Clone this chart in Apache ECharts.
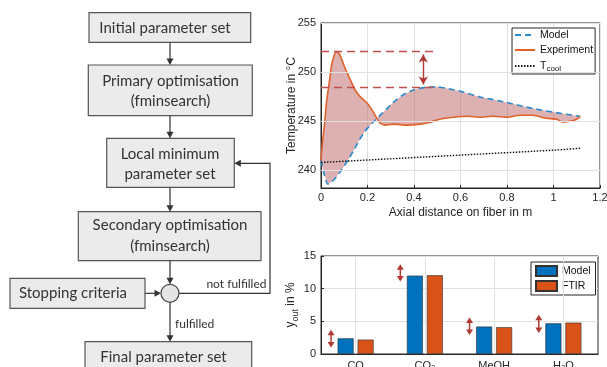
<!DOCTYPE html>
<html><head><meta charset="utf-8">
<script src="https://cdn.jsdelivr.net/npm/echarts@6/dist/echarts.min.js"></script>
<style>html,body{margin:0;padding:0;background:#fff}#c{width:607px;height:367px}</style>
</head><body><div id="c"></div>
<script>
// ---- top chart data ----
const modelX = [0, 0.015, 0.029, 0.045, 0.065, 0.09, 0.115, 0.14, 0.165, 0.19, 0.22, 0.254, 0.28, 0.31, 0.354, 0.40, 0.45, 0.50, 0.55, 0.60, 0.68, 0.80, 0.91, 1.03, 1.115];
const modelY = [241.0, 239.5, 238.6, 238.8, 239.3, 240.1, 241.0, 242.0, 243.1, 244.0, 244.8, 245.6, 246.2, 246.9, 247.7, 248.2, 248.45, 248.5, 248.3, 248.05, 247.5, 246.9, 246.3, 245.8, 245.5];
const expX = [0, 0.007, 0.014, 0.024, 0.036, 0.045, 0.055, 0.067, 0.08, 0.1, 0.115, 0.13, 0.146, 0.168, 0.196, 0.218, 0.24, 0.254, 0.275, 0.31, 0.37, 0.426, 0.47, 0.51, 0.57, 0.627, 0.684, 0.74, 0.80, 0.856, 0.91, 0.97, 1.014, 1.04, 1.07, 1.10, 1.115];
const expY = [241.0, 243.0, 244.4, 247.0, 249.0, 250.6, 251.6, 252.1, 251.8, 250.6, 249.8, 249.0, 248.2, 247.5, 246.9, 246.2, 245.3, 244.8, 244.6, 244.7, 244.6, 244.7, 244.9, 245.2, 245.4, 245.5, 245.4, 245.5, 245.4, 245.6, 245.6, 245.3, 245.2, 244.9, 245.0, 245.2, 245.5];
const coolX = [0, 0.2, 0.4, 0.6, 0.8, 1.0, 1.12];
const coolY = [240.8, 241.05, 241.3, 241.55, 241.8, 242.05, 242.25];
const tempTicks = [240, 245, 250, 255];
const expPeak = 252.1;
const modelPeak = 248.5;
const diffArrow = [0.44, 251.8, 248.75];
const refLineEnd = 0.49;

// ---- bar chart data ----
const categories = ['CO', 'CO\u2082', 'MeOH', 'H\u2082O'];
const barModel = [2.4, 12.0, 4.2, 4.7];
const barFTIR = [2.2, 12.05, 4.1, 4.8];
const arrowLow = [1.0, 11.1, 2.9, 3.2];
const arrowHigh = [3.7, 13.75, 5.6, 6.0];

const FONT = 'Liberation Sans, Arial, sans-serif';
const AX = '#262626';
const GRIDC = '#e1e1e1';

// ---- flowchart graphics ----
const FF = 'Lato';
const LC = '#333';
function box(x, y, w, h) {
  return {type: 'rect', shape: {x: x, y: y, width: w, height: h}, style: {fill: '#ebebeb', stroke: '#555', lineWidth: 1.2}, z: 10};
}
function txt(s, x, y, size, align) {
  return {type: 'text', x: x, y: y, z: 11, style: {text: s, font: size + 'px ' + FF, fill: '#333', align: align || 'center', verticalAlign: 'middle'}};
}
function head(x, y, dir) {
  const a = 6.5, b = 3.5;
  let pts;
  if (dir === 'down') pts = [[x, y], [x - b, y - a], [x + b, y - a]];
  else if (dir === 'right') pts = [[x, y], [x - a, y - b], [x - a, y + b]];
  else pts = [[x, y], [x + a, y - b], [x + a, y + b]];
  return {type: 'polygon', shape: {points: pts}, style: {fill: LC}, z: 11};
}
function seg(points) {
  return {type: 'polyline', shape: {points: points}, style: {stroke: LC, lineWidth: 1.2, fill: null}, z: 10};
}
const flow = [
  box(89, 12.7, 161.7, 29.6), txt('Initial parameter set', 165, 28.5, 15),
  seg([[170, 42.3], [170, 60]]), head(170, 65, 'down'),
  box(88.3, 65, 164, 50.7), txt('Primary optimisation', 170.5, 81.5, 15), txt('(fminsearch)', 170.5, 101.5, 15),
  seg([[170, 115.7], [170, 133]]), head(170, 138.3, 'down'),
  box(106.7, 138.3, 127.6, 49), txt('Local minimum', 170, 154, 15), txt('parameter set', 170, 174, 15),
  seg([[170, 187.3], [170, 206]]), head(170, 211.7, 'down'),
  box(78.3, 211.7, 182.7, 49), txt('Secondary optimisation', 170, 225.5, 15), txt('(fminsearch)', 170, 246, 15),
  seg([[170, 260.7], [170, 279]]), head(170, 284.3, 'down'),
  box(10, 278.3, 135, 30), txt('Stopping criteria', 73, 293.3, 15),
  seg([[145, 293.3], [156, 293.3]]), head(161, 293.3, 'right'),
  {type: 'circle', shape: {cx: 170, cy: 293.3, r: 9}, style: {fill: '#e4e4e4', stroke: '#444', lineWidth: 1.2}, z: 11},
  seg([[179, 293.3], [270, 293.3], [270, 163.3], [240, 163.3]]), head(234.3, 163.3, 'left'),
  txt('not fulfilled', 266.5, 284, 12, 'right'),
  seg([[170, 302.3], [170, 336]]), head(170, 341.7, 'down'),
  txt('fulfilled', 175, 324, 12, 'left'),
  box(85, 341.7, 166.7, 40), txt('Final parameter set', 163.5, 357, 15)
];

const chart = echarts.init(document.getElementById('c'), null, {renderer: 'canvas'});
const option = {
  animation: false,
  backgroundColor: '#fff',
  textStyle: {fontFamily: FONT, color: AX},
  graphic: {elements: flow},
  grid: [
    {left: 321, top: 23, width: 279, height: 165, show: true, borderColor: AX, borderWidth: 1, backgroundColor: 'transparent', outerBoundsMode: 'none', containLabel: false},
    {left: 321, top: 256, width: 277, height: 98, show: true, borderColor: AX, borderWidth: 1, backgroundColor: 'transparent', outerBoundsMode: 'none', containLabel: false}
  ],
  legend: [
    {
      orient: 'vertical', left: 512, top: 28, padding: [1, 2, 1, 2], itemGap: 3, itemWidth: 20, itemHeight: 12,
      borderColor: AX, borderWidth: 1, backgroundColor: '#fff',
      itemStyle: {opacity: 0},
      data: ['Model', 'Experiment', 'Tcool'],
      textStyle: {fontSize: 10.5, color: '#111', fontFamily: FONT, lineHeight: 12,
        rich: {t: {fontSize: 10.5, lineHeight: 14, verticalAlign: 'middle', fontFamily: FONT, color: '#111'},
               s: {fontSize: 8, lineHeight: 14, verticalAlign: 'bottom', fontFamily: FONT, color: '#111'}}},
      formatter: function (n) { return n === 'Tcool' ? '{t|T}{s|cool}' : n; }
    },
    {
      orient: 'vertical', left: 531, top: 262, padding: [3, 2, 3, 4], itemGap: 3, itemWidth: 21, itemHeight: 10,
      borderColor: AX, borderWidth: 1, backgroundColor: '#fff', icon: 'rect',
      data: ['Model ', 'FTIR'],
      textStyle: {fontSize: 10.5, color: '#111', fontFamily: FONT, lineHeight: 12}
    }
  ],
  xAxis: [
    {
      type: 'value', gridIndex: 0, min: 0, max: 1.2, interval: 0.2,
      name: 'Axial distance on fiber in m', nameLocation: 'middle', nameGap: 19, nameMoveOverlap: false,
      nameTextStyle: {fontSize: 12, color: AX},
      axisLine: {show: true, lineStyle: {color: AX}},
      axisTick: {show: true, inside: true, length: 3, lineStyle: {color: AX}},
      axisLabel: {fontSize: 11, color: AX, margin: 4},
      splitLine: {show: true, lineStyle: {color: GRIDC, width: 1}}
    },
    {
      type: 'category', gridIndex: 1, data: categories,
      axisLine: {show: true, lineStyle: {color: AX}},
      axisTick: {show: true, inside: true, length: 3, alignWithLabel: true, lineStyle: {color: AX}},
      axisLabel: {fontSize: 11, color: AX, margin: 6},
      splitLine: {show: false}
    }
  ],
  yAxis: [
    {
      type: 'value', gridIndex: 0, min: 238.2, max: 255,
      name: 'Temperature in \u00B0C', nameLocation: 'middle', nameGap: 23, nameMoveOverlap: false,
      nameTextStyle: {fontSize: 12, color: AX},
      axisLine: {show: true, lineStyle: {color: AX}},
      axisTick: {show: true, inside: true, length: 3, customValues: tempTicks, lineStyle: {color: AX}},
      axisLabel: {fontSize: 11, color: AX, margin: 5, customValues: tempTicks},
      splitLine: {show: false}
    },
    {
      type: 'value', gridIndex: 1, min: 0, max: 15, interval: 5,
      name: '{a|y}{s|out}{a| in %}', nameLocation: 'middle', nameGap: 21, nameMoveOverlap: false,
      nameTextStyle: {fontSize: 12, color: AX,
        rich: {a: {fontSize: 12, lineHeight: 18, verticalAlign: 'middle', color: AX, fontFamily: FONT},
               s: {fontSize: 9, lineHeight: 18, verticalAlign: 'bottom', color: AX, fontFamily: FONT}}},
      axisLine: {show: true, lineStyle: {color: AX}},
      axisTick: {show: true, inside: true, length: 3, lineStyle: {color: AX}},
      axisLabel: {fontSize: 11, color: AX, margin: 5},
      splitLine: {show: true, lineStyle: {color: GRIDC, width: 1}}
    }
  ],
  series: [
    {
      type: 'line', name: 'hgrid', xAxisIndex: 0, yAxisIndex: 0, z: 0, data: [], silent: true,
      markLine: {silent: true, symbol: ['none', 'none'], label: {show: false}, animation: false,
        lineStyle: {color: GRIDC, width: 1, type: 'solid'},
        data: tempTicks.map(v => ({yAxis: v}))}
    },
    {
      type: 'custom', name: 'fill', xAxisIndex: 0, yAxisIndex: 0, z: 1, silent: true,
      data: [[0.5, 245]],
      renderItem: function (params, api) {
        const pts = [];
        for (let i = 0; i < modelX.length; i++) pts.push(api.coord([modelX[i], modelY[i]]));
        for (let i = expX.length - 1; i >= 0; i--) pts.push(api.coord([expX[i], expY[i]]));
        return {type: 'polygon', shape: {points: pts}, style: {fill: 'rgba(180,80,85,0.45)'}};
      }
    },
    {
      type: 'line', name: 'Model', xAxisIndex: 0, yAxisIndex: 0, z: 3, symbol: 'none', smooth: 0.2,
      data: modelX.map((x, i) => [x, modelY[i]]),
      lineStyle: {color: '#2B8AD0', width: 1.6, type: [6, 4]}, itemStyle: {color: '#2B8AD0'}
    },
    {
      type: 'line', name: 'Experiment', xAxisIndex: 0, yAxisIndex: 0, z: 4, symbol: 'none', smooth: 0.2,
      data: expX.map((x, i) => [x, expY[i]]),
      lineStyle: {color: '#E0622A', width: 1.6}, itemStyle: {color: '#E0622A'},
      markLine: {
        silent: true, symbol: ['none', 'none'], label: {show: false}, animation: false,
        lineStyle: {color: '#C0504D', width: 1.3, type: [8, 5]},
        data: [
          [{coord: [0, expPeak]}, {coord: [refLineEnd, expPeak]}],
          [{coord: [0, modelPeak]}, {coord: [refLineEnd, modelPeak]}],
          [{coord: [diffArrow[0], diffArrow[1]], symbol: 'arrow', symbolSize: [7, 8], lineStyle: {type: 'solid', color: '#B03A35', width: 1.4}},
           {coord: [diffArrow[0], diffArrow[2]], symbol: 'arrow', symbolSize: [7, 8]}]
        ]
      }
    },
    {
      type: 'line', name: 'Tcool', xAxisIndex: 0, yAxisIndex: 0, z: 3, symbol: 'none',
      data: coolX.map((x, i) => [x, coolY[i]]),
      lineStyle: {color: '#111', width: 1.4, type: [1.5, 1.5]}, itemStyle: {color: '#111'}
    },
    {
      type: 'line', name: 'vgrid', xAxisIndex: 1, yAxisIndex: 1, z: 0, data: [], silent: true,
      markLine: {silent: true, symbol: ['none', 'none'], label: {show: false}, animation: false,
        lineStyle: {color: GRIDC, width: 1, type: 'solid'},
        data: categories.map(c => ({xAxis: c}))}
    },
    {
      type: 'bar', name: 'Model ', xAxisIndex: 1, yAxisIndex: 1, z: 2, barWidth: 16, barGap: '25%',
      data: barModel, itemStyle: {color: '#0072BD', borderColor: '#333', borderWidth: 0.6}
    },
    {
      type: 'bar', name: 'FTIR', xAxisIndex: 1, yAxisIndex: 1, z: 2, barWidth: 16, barGap: '25%',
      data: barFTIR, itemStyle: {color: '#D95319', borderColor: '#333', borderWidth: 0.6}
    },
    {
      type: 'custom', name: 'arrows', xAxisIndex: 1, yAxisIndex: 1, z: 5, silent: true,
      encode: {x: 0, y: [1, 2]},
      data: categories.map((c, i) => [i, arrowLow[i], arrowHigh[i]]),
      renderItem: function (params, api) {
        const i = api.value(0);
        const top = api.coord([i, api.value(2)]);
        const bot = api.coord([i, api.value(1)]);
        const bw = api.size([1, 0])[0];
        const x = top[0] - 0.355 * bw;
        const h = 5.5, w = 3.5, col = '#B03A35';
        return {type: 'group', children: [
          {type: 'line', shape: {x1: x, y1: top[1] + h - 1, x2: x, y2: bot[1] - h + 1}, style: {stroke: col, lineWidth: 1.5}},
          {type: 'polygon', shape: {points: [[x, top[1]], [x - w, top[1] + h], [x + w, top[1] + h]]}, style: {fill: col}},
          {type: 'polygon', shape: {points: [[x, bot[1]], [x - w, bot[1] - h], [x + w, bot[1] - h]]}, style: {fill: col}}
        ]};
      }
    }
  ]
};
chart.setOption(option);
</script>
</body></html>
